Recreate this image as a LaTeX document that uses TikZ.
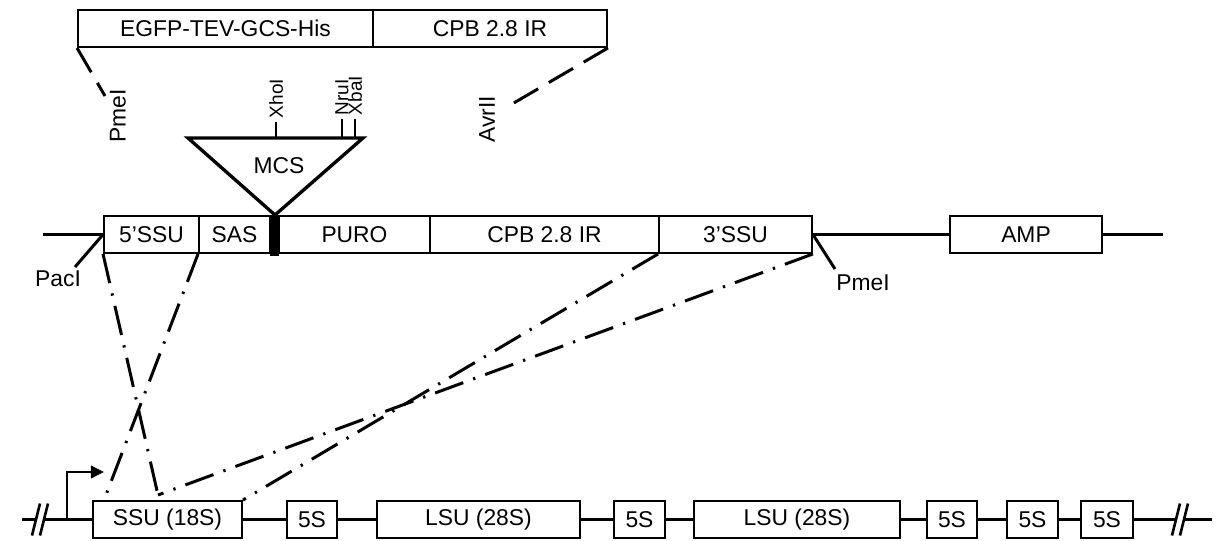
\documentclass[tikz,border=0pt]{standalone}
\usepackage{fontspec}
\setmainfont{Liberation Sans}
\usepackage{tikz}
\usetikzlibrary{arrows.meta}
\newcommand{\lblfont}{\fontsize{13}{15}\selectfont}
\newcommand{\sitefont}{\fontsize{10.8}{12}\selectfont}

\begin{document}
\begin{tikzpicture}[x=0.02cm,y=-0.02cm,
box/.style={draw,line width=1.1pt,minimum height=0.74cm,inner sep=0pt,font=\lblfont},
bb/.style={line width=1.7pt},
cut/.style={line width=1.7pt,dash pattern=on 16pt off 7pt},
hom/.style={line width=1.7pt,dash pattern=on 17pt off 6pt on 1.3pt off 6pt},
tag/.style={font=\lblfont,inner sep=1pt},
site/.style={font=\sitefont,rotate=90,anchor=west,inner sep=2pt},
brk/.style={line width=1.5pt}]
\useasboundingbox (0,0) rectangle (1225,541);
% donor fragment
\node[box,minimum width=5.9cm] (egfp) at (225.5,28.5) {EGFP-TEV-GCS-His};
\node[box,minimum width=4.68cm] (cpbt) at (490,28.5) {CPB 2.8 IR};
\node[tag,rotate=90] (pmeA) at (118,116) {PmeI};
\node[tag,rotate=90] (avr) at (487,119) {AvrII};
\coordinate (pmeAend) at (105,96);
\coordinate (avrend) at (507,107);
\draw[cut] (egfp.south west) -- (pmeAend);
\draw[cut] (cpbt.south east) -- (avrend);
% MCS
\coordinate (mcsL) at (188,138);
\coordinate (mcsR) at (363,138);
\coordinate (mcsB) at (275,215);
\draw[line width=1.9pt] (mcsL) -- (mcsR) -- (mcsB) -- cycle;
\node[tag] (mcs) at (279,166) {MCS};
\node[site] (xho) at (276,122) {XhoI};
\node[site] (nru) at (342,119) {NruI};
\node[site] (xba) at (355,119) {XbaI};
\draw[bb] (xho.west) -- (xho.west |- mcsL);
\draw[bb] (nru.west) -- (nru.west |- mcsL);
\draw[bb] (xba.west) -- (xba.west |- mcsL);
% plasmid
\node[box,minimum width=1.9cm] (ssu5) at (151.5,234.5) {5’SSU};
\node[box,minimum width=1.42cm] (sas) at (234.5,234.5) {SAS};
\node[fill=black,minimum width=0.18cm,minimum height=0.82cm,inner sep=0pt] (bar) at (274.5,235.5) {};
\node[box,minimum width=3.02cm] (puro) at (354.5,234.5) {PURO};
\node[box,minimum width=4.58cm] (cpb) at (544.5,234.5) {CPB 2.8 IR};
\node[box,minimum width=3.06cm] (ssu3) at (735.5,234.5) {3’SSU};
\node[box,minimum width=3.04cm] (amp) at (1026,234.5) {AMP};
\coordinate (pl) at (43,234.5);
\coordinate (pr) at (1163,234.5);
\draw[bb] (pl) -- (ssu5.west);
\draw[bb] (ssu3.east) -- (amp.west);
\draw[bb] (amp.east) -- (pr);
\node[tag] (pac) at (58,279) {PacI};
\node[tag] (pmeB) at (863,283) {PmeI};
\coordinate (pacend) at (75,267);
\coordinate (pmeBend) at (835,269);
\draw[bb] (ssu5.west) -- (pacend);
\draw[bb] (ssu3.east) -- (pmeBend);
% rDNA locus
\node[box,minimum width=2.98cm] (ssu18) at (167.5,519.5) {SSU (18S)};
\node[box,minimum width=1.0cm] (s1) at (312,519.5) {5S};
\node[box,minimum width=4.06cm] (lsu1) at (478.5,519.5) {LSU (28S)};
\node[box,minimum width=1.02cm] (s2) at (639.5,519.5) {5S};
\node[box,minimum width=4.12cm] (lsu2) at (797,519.5) {LSU (28S)};
\node[box,minimum width=1.0cm] (s3) at (952,519.5) {5S};
\node[box,minimum width=1.02cm] (s4) at (1032.5,519.5) {5S};
\node[box,minimum width=1.04cm] (s5) at (1107,519.5) {5S};
\draw[bb] (ssu18.east) -- (s1.west);
\draw[bb] (s1.east) -- (lsu1.west);
\draw[bb] (lsu1.east) -- (s2.west);
\draw[bb] (s2.east) -- (lsu2.west);
\draw[bb] (lsu2.east) -- (s3.west);
\draw[bb] (s3.east) -- (s4.west); \draw[bb] (s4.east) -- (s5.west);
\coordinate (gl) at (22,519.5);
\coordinate (bl1) at (36,519.5);
\coordinate (bl2) at (44,519.5);
\coordinate (br1) at (1176,519.5);
\coordinate (br2) at (1184,519.5);
\coordinate (gr) at (1212,519.5);
\draw[bb] (gl) -- (bl1); \draw[bb] (bl2) -- (ssu18.west);
\draw[bb] (s5.east) -- (br1); \draw[bb] (br2) -- (gr);
\draw[brk] ([shift={(-4,16)}]bl1) -- ([shift={(4,-16)}]bl1);
\draw[brk] ([shift={(-4,16)}]bl2) -- ([shift={(4,-16)}]bl2);
\draw[brk] ([shift={(-4,16)}]br1) -- ([shift={(4,-16)}]br1);
\draw[brk] ([shift={(-4,16)}]br2) -- ([shift={(4,-16)}]br2);
\coordinate (tss) at (67,519.5);
\coordinate (tssend) at (104,472);
\draw[bb,-{Triangle[length=7.5pt,width=7pt]}] (tss) |- (tssend);
% homology arms
\coordinate (hit) at (158,495);
\draw[hom] (ssu5.south west) -- (hit);
\draw[hom] (sas.south west) -- ([xshift=0.24cm]ssu18.north west);
\draw[hom] (ssu3.south east) -- (hit);
\draw[hom] (ssu3.south west) -- (ssu18.north east);
\end{tikzpicture}
\end{document}
